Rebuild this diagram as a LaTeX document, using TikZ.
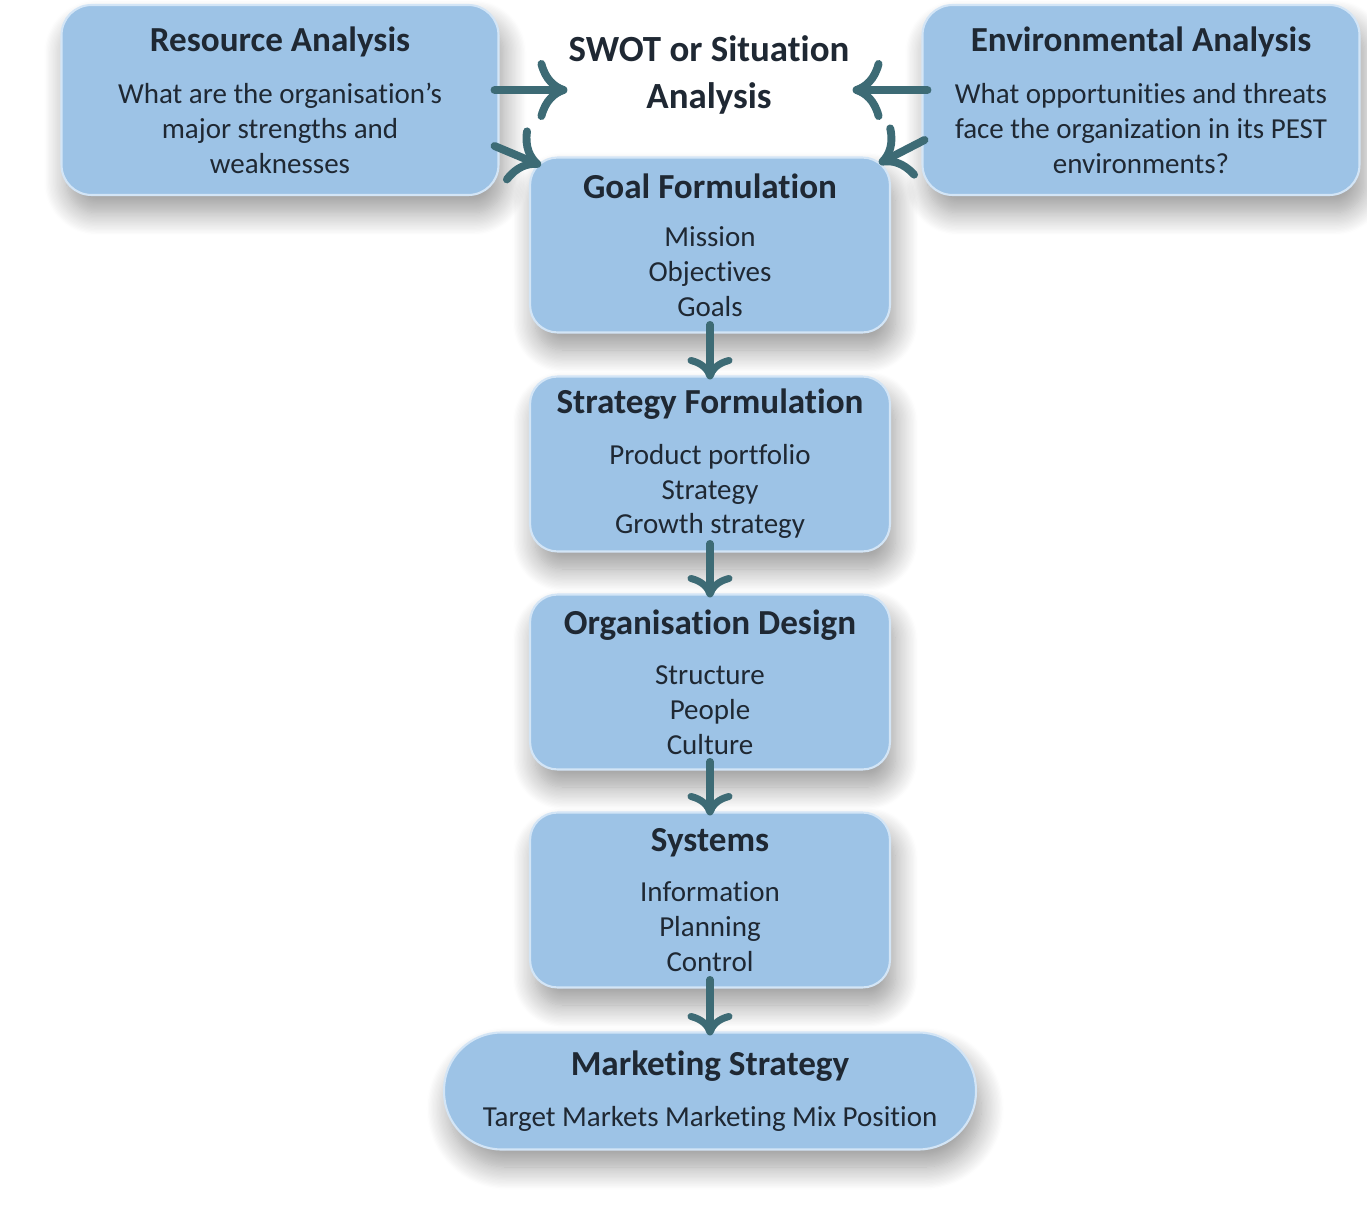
\documentclass[tikz,border=0pt]{standalone}
\usepackage{fontspec}
\setmainfont{Carlito}[RawFeature={-liga;-clig;-dlig;-calt;-hlig}]
\usetikzlibrary{arrows.meta, shadows.blur}
\definecolor{boxblue}{HTML}{9DC3E6}
\definecolor{boxedge}{HTML}{D3E5F6}
\definecolor{arrowteal}{HTML}{3D6B75}
\definecolor{inkdark}{HTML}{1F2833}
\newcommand{\boxtitle}[1]{{\fontsize{20}{24}\selectfont\bfseries #1}}

\begin{document}
\begin{tikzpicture}[x=0.02cm, y=-0.02cm,
box/.style = {% blue panels
    rectangle, rounded corners=0.55cm, fill=boxblue, draw=boxedge, line width=1.2pt,
    text=inkdark, align=center, font=\fontsize{16.5}{19.8}\selectfont,
    minimum width=7.2cm, minimum height=3.5cm,
    blur shadow={shadow xshift=3pt, shadow yshift=-10pt, shadow blur radius=13pt,
                 shadow blur steps=18, shadow opacity=40},
            },
topbox/.style = {% analysis panels
    box, minimum width=8.74cm, minimum height=3.8cm, rounded corners=0.6cm,
            },
flow/.style = {% down arrows
    draw=arrowteal, line width=4pt, line cap=round,
    -{Computer Modern Rightarrow[length=4.5mm, width=9mm]},
            },
bigflow/.style = {% arrows from the analyses
    flow, line width=4.5pt,
    -{Computer Modern Rightarrow[length=6mm, width=12mm]},
            },
                        ]
\useasboundingbox (0,0) rectangle (1367,1206);
% analyses
\node[topbox] (res) at (280,100)
    {\boxtitle{Resource Analysis}\\[10pt] What are the organisation’s\\ major strengths and\\ weaknesses};
\node[topbox] (env) at (1141,100)
    {\boxtitle{Environmental Analysis}\\[10pt] What opportunities and threats\\ face the organization in its PEST\\ environments?};
\node[text=inkdark, align=center, font=\fontsize{21}{26.5}\selectfont\bfseries] (swot) at (709,75)
    {SWOT or Situation\\ Analysis};
% chain
\node[box] (goal) at (710,245)
    {\boxtitle{Goal Formulation}\\[8pt] Mission\\ Objectives\\ Goals};
\node[box] (strat) at (710,464)
    {\boxtitle{Strategy Formulation}\\[9pt] Product portfolio\\ Strategy\\ Growth strategy};
\node[box] (org) at (710,682)
    {\boxtitle{Organisation Design}\\[9pt] Structure\\ People\\ Culture};
\node[box] (sys) at (710,900)
    {\boxtitle{Systems}\\[9pt] Information\\ Planning\\ Control};
\node[box, minimum width=10.64cm, minimum height=2.34cm, rounded corners=1.15cm] (mkt) at (710,1091)
    {\boxtitle{Marketing Strategy}\\[9pt] Target Markets Marketing Mix Position};
% arrows
\draw[bigflow] ([xshift=-0.1cm, yshift=0.2cm]res.east) -- ([xshift=0.1cm, yshift=-0.3cm]swot.west);
\draw[bigflow] ([xshift=-0.1cm, yshift=-0.92cm]res.east) -- ([xshift=0.24cm, yshift=-0.18cm]goal.north west);
\draw[bigflow] ([xshift=0.12cm, yshift=0.2cm]env.west) -- ([xshift=-0.06cm, yshift=-0.3cm]swot.east);
\draw[bigflow] ([xshift=0.06cm, yshift=-0.8cm]env.west) -- ([xshift=-0.24cm, yshift=-0.14cm]goal.north east);
\foreach \a/\b in {goal/strat, strat/org, org/sys, sys/mkt}
    {\draw[flow] ([yshift=0.18cm]\a.south) -- ([yshift=-0.08cm]\b.north);}
\end{tikzpicture}
\end{document}
